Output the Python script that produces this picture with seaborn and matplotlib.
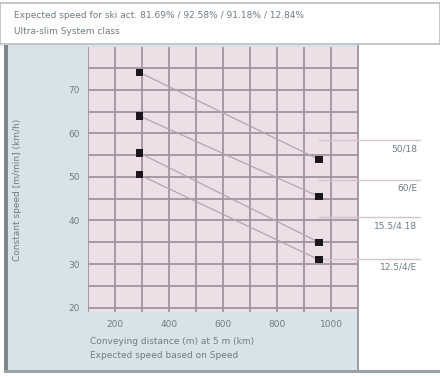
import pandas as pd
import seaborn as sns
import matplotlib.pyplot as plt
from matplotlib.patches import Rectangle

# data
series = ['50/18', '60/E', '15.5/4.18', '12.5/4/E']
dist_start = [290, 290, 290, 290]
dist_end = [955, 955, 955, 955]
speed_start = [74.0, 64.0, 55.5, 50.5]
speed_end = [54.0, 45.5, 35.0, 31.0]
label_level = [58.4, 49.4, 40.7, 31.2]

x_ticks = [200, 400, 600, 800, 1000]
y_ticks = [20, 30, 40, 50, 60, 70]

rows = []
for i, s in enumerate(series):
    rows.append({'series': s, 'dist': dist_start[i], 'speed': speed_start[i]})
    rows.append({'series': s, 'dist': dist_end[i], 'speed': speed_end[i]})
data = pd.DataFrame(rows)

sns.set_style('white')
plt.rcParams['font.family'] = ['DejaVu Sans']
txt = '#6f7c84'

W, H = 440, 377
fig = plt.figure(figsize=(4.4, 3.77), dpi=100, facecolor='white')

def box(x0, y0, x1, y1, **kw):
    fig.patches.append(Rectangle((x0 / W, 1 - y1 / H), (x1 - x0) / W, (y1 - y0) / H,
                                 transform=fig.transFigure, zorder=-5, **kw))

# frame pieces
box(0, 3, 440, 44, facecolor='white', edgecolor='#b9bdc0', linewidth=1.2)
box(6, 45, 358, 372, facecolor='#d6e3e9', edgecolor='none')
box(4, 45, 8, 373, facecolor='#7d878c', edgecolor='none')
box(4, 370, 440, 373, facecolor='#9aa2a6', edgecolor='none')
box(357, 45, 359, 372, facecolor='#9aa2a6', edgecolor='none')

fig.text(14 / W, 1 - 16 / H,
         'Expected speed for ski act. 81.69% / 92.58% / 91.18% / 12.84%',
         fontsize=6.5, color=txt, va='center')
fig.text(14 / W, 1 - 31 / H, 'Ultra-slim System class', fontsize=6.5, color=txt, va='center')

ax = fig.add_axes([88 / W, 1 - 312 / H, 270 / W, 265 / H])
ax.set_facecolor('#eedfe6')
ax.set_xlim(100, 1100)
ax.set_ylim(19, 79.8)
ax.set_xticks(range(100, 1101, 100))
ax.set_yticks(list(range(20, 80, 5)))
ax.grid(True, color='#a393a0', linewidth=1.3)
ax.set_axisbelow(True)
ax.set_xticklabels([str(v) if v in x_ticks else '' for v in range(100, 1101, 100)])
ax.set_yticklabels([str(v) if v in y_ticks else '' for v in range(20, 80, 5)])
ax.tick_params(length=0, labelsize=6.5, labelcolor=txt, pad=6)
for sp in ax.spines.values():
    sp.set_visible(False)

sns.lineplot(data=data, x='dist', y='speed', units='series', estimator=None,
             color='#b3a6b0', linewidth=0.9, ax=ax, legend=False)
sns.scatterplot(data=data, x='dist', y='speed', marker='s', s=28, color='#1c1620',
                edgecolor='none', ax=ax, legend=False, zorder=5)
ax.set_xlabel('')
ax.set_ylabel('')

# leader lines and series labels on the right
for i, s in enumerate(series):
    ax.plot([dist_end[i], 1330], [label_level[i], label_level[i]], color='#d4c4cf',
            linewidth=1.0, clip_on=False)
    ax.text(1320, label_level[i] - 1.9, s, fontsize=6.5, color=txt, ha='right', va='center')

fig.text(18 / W, 1 - 190 / H, 'Constant speed [m/min] (km/h)', rotation=90,
         fontsize=6.5, color=txt, va='center', ha='center')
fig.text(90 / W, 1 - 341 / H, 'Conveying distance (m) at 5 m (km)', fontsize=6.5, color=txt, va='center')
fig.text(90 / W, 1 - 356 / H, 'Expected speed based on Speed', fontsize=6.5, color=txt, va='center')

fig.savefig('out.png', dpi=100, facecolor='white')
